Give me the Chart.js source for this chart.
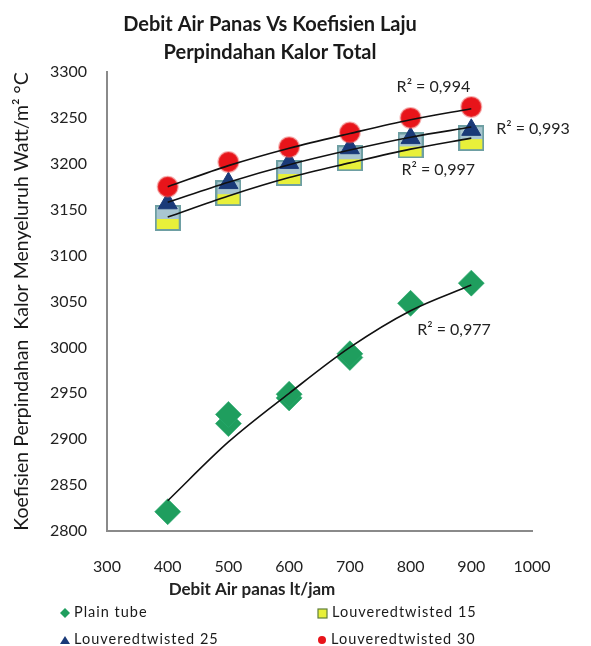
<!DOCTYPE html>
<html>
<head>
<meta charset="utf-8">
<script src="https://cdn.jsdelivr.net/npm/chart.js@4"></script>
<style>
  html, body { margin: 0; padding: 0; background: #fff; }
  #wrap { position: relative; width: 591px; height: 646px; }
  #chart { position: absolute; left: 0; top: 0; }
  #legend {
    position: absolute; left: 0; top: 600px; width: 591px; height: 46px;
    font-family: Lato, sans-serif; font-size: 14.5px; color: #1a1a1a; letter-spacing: 1px;
  }
  .item { position: absolute; height: 18px; line-height: 18px; white-space: nowrap; }
  .mk { display: inline-block; vertical-align: middle; margin-right: 4px; }
</style>
</head>
<body>
<div id="wrap">
  <canvas id="chart" width="591" height="646"></canvas>
  <div id="legend"></div>
</div>
<script>
  /* ---------- DATA ---------- */
  const seriesNames = [
    "Plain tube",
    "Louveredtwisted 15",
    "Louveredtwisted 25",
    "Louveredtwisted 30",
  ];

  // plain tube has repeated runs at some flow rates
  const plainX = [400, 500, 500, 600, 600, 700, 700, 800, 900];
  const plainY = [2821, 2917, 2927, 2945, 2949, 2989, 2993, 3048, 3070];

  const debit = [400, 500, 600, 700, 800, 900];
  const lt15 = [3141, 3168, 3190, 3206, 3220, 3228];
  const lt25 = [3157, 3179, 3201, 3217, 3228, 3237];
  const lt30 = [3175, 3202, 3218, 3234, 3250, 3262];

  // trendlines
  const trendPlain = [2833, 2897, 2950, 3000, 3040, 3068];
  const trend15 = [3142, 3165, 3185, 3201, 3216, 3228];
  const trend25 = [3158, 3180, 3199, 3215, 3229, 3240];
  const trend30 = [3175, 3198, 3217, 3233, 3248, 3260];

  const xRange = [300, 1000, 100];
  const yRange = [2800, 3300, 50];

  const rText = ["R² = 0,994", "R² = 0,993", "R² = 0,997", "R² = 0,977"];
  const rAtX = [777, 941, 785, 811];
  const rAtY = [3284, 3238, 3193, 3019];

  /* ---------- STYLES ---------- */
  const green = "#1f9e5e";
  const red = "#e8141a";
  const navy = "#1a3a78";
  const yellow = "#e8f03a";
  const teal = "#6e9fa3";
  const fontFam = "Lato, 'Open Sans', sans-serif";

  const pts = (xs, ys) => xs.map((x, i) => ({ x: x, y: ys[i] }));

  // excel-ish square marker: bluish top, yellow bottom
  function squareMarker() {
    const c = document.createElement("canvas");
    c.width = 26;
    c.height = 26;
    const g = c.getContext("2d");
    g.fillStyle = "#a9c6d0";
    g.fillRect(1, 1, 24, 13);
    g.fillStyle = yellow;
    g.fillRect(1, 14, 24, 11);
    g.strokeStyle = teal;
    g.lineWidth = 2;
    g.strokeRect(1, 1, 24, 24);
    return c;
  }

  const trendStyle = {
    type: "line",
    showLine: true,
    borderColor: "#111",
    borderWidth: 1.6,
    pointRadius: 0,
    cubicInterpolationMode: "monotone",
    fill: false,
    order: 0,
  };

  /* ---------- EXTRA TEXT (x title, R² labels) ---------- */
  const extraText = {
    id: "extraText",
    afterDraw(chart) {
      const { ctx, scales } = chart;
      ctx.save();
      ctx.fillStyle = "#222";
      ctx.textBaseline = "middle";
      ctx.font = "16px " + fontFam;
      ctx.textAlign = "left";
      rText.forEach((t, i) => {
        ctx.fillText(
          t,
          scales.x.getPixelForValue(rAtX[i]),
          scales.y.getPixelForValue(rAtY[i]),
        );
      });
      ctx.font = "bold 17px " + fontFam;
      ctx.textAlign = "center";
      ctx.fillText("Debit Air panas lt/jam", chart.chartArea.left + 145, 590);
      ctx.restore();
    },
  };

  const plainNum = (v) => String(v);

  /* ---------- CHART ---------- */
  const ctx = document.getElementById("chart").getContext("2d");
  new Chart(ctx, {
    type: "scatter",
    data: {
      datasets: [
        { ...trendStyle, label: "t30", data: pts(debit, trend30) },
        { ...trendStyle, label: "t25", data: pts(debit, trend25) },
        { ...trendStyle, label: "t15", data: pts(debit, trend15) },
        { ...trendStyle, label: "tp", data: pts(debit, trendPlain) },
        {
          label: seriesNames[3],
          data: pts(debit, lt30),
          pointStyle: "circle",
          pointRadius: 10,
          backgroundColor: red,
          borderColor: "rgba(235,80,80,0.45)",
          borderWidth: 2,
          order: 1,
        },
        {
          label: seriesNames[2],
          data: pts(debit, lt25),
          pointStyle: "triangle",
          pointRadius: 11,
          backgroundColor: navy,
          borderColor: navy,
          borderWidth: 1,
          order: 2,
        },
        {
          label: seriesNames[1],
          data: pts(debit, lt15),
          pointStyle: squareMarker(),
          pointRadius: 13,
          order: 3,
        },
        {
          label: seriesNames[0],
          data: pts(plainX, plainY),
          pointStyle: "rectRot",
          pointRadius: 13,
          backgroundColor: green,
          borderColor: "rgba(40,170,110,0.6)",
          borderWidth: 1,
          order: 4,
        },
      ],
    },
    options: {
      responsive: false,
      animation: false,
      layout: { padding: { left: 8, right: 59, top: 0, bottom: 46 } },
      plugins: {
        legend: { display: false },
        tooltip: { enabled: false },
        title: {
          display: true,
          text: ["Debit Air Panas Vs Koefisien Laju", "Perpindahan Kalor Total"],
          color: "#1a1a1a",
          font: { family: fontFam, size: 20, weight: "bold", lineHeight: 1.4 },
          padding: { top: 11, bottom: 5 },
        },
      },
      scales: {
        x: {
          type: "linear",
          min: xRange[0],
          max: xRange[1],
          grid: { display: false, drawTicks: false },
          border: { display: true, color: "#8a8a8a", width: 2 },
          ticks: {
            stepSize: xRange[2],
            color: "#222",
            padding: 26,
            font: { family: fontFam, size: 16 },
            callback: plainNum,
          },
          afterFit: (s) => { s.height = 69; },
        },
        y: {
          min: yRange[0],
          max: yRange[1],
          grid: { display: false, drawTicks: false },
          border: { display: true, color: "#8a8a8a", width: 2 },
          ticks: {
            stepSize: yRange[2],
            color: "#222",
            padding: 20,
            font: { family: fontFam, size: 16 },
            callback: plainNum,
          },
          title: {
            display: true,
            text: "Koefisien Perpindahan  Kalor Menyeluruh Watt/m² °C",
            color: "#1a1a1a",
            font: { family: fontFam, size: 19.5 },
            padding: { top: 2, bottom: 0 },
          },
          afterFit: (s) => { s.width = 99; },
        },
      },
    },
    plugins: [extraText],
  });

  /* ---------- LEGEND (2 x 2) ---------- */
  const markers = [
    `<svg class="mk" width="10" height="10"><polygon points="5,0 10,5 5,10 0,5" fill="${green}"/></svg>`,
    `<svg class="mk" width="11" height="11"><rect x="1" y="1" width="9" height="9" fill="${yellow}" stroke="#5f7f3a" stroke-width="1.2"/></svg>`,
    `<svg class="mk" width="10" height="10"><polygon points="5,1 10,9 0,9" fill="${navy}"/></svg>`,
    `<svg class="mk" width="10" height="10"><circle cx="5" cy="5" r="4" fill="${red}"/></svg>`,
  ];
  const legendPos = [
    [60, 3],
    [317, 3],
    [60, 30],
    [317, 30],
  ];
  const legendEl = document.getElementById("legend");
  seriesNames.forEach((name, i) => {
    const d = document.createElement("div");
    d.className = "item";
    d.style.left = legendPos[i][0] + "px";
    d.style.top = legendPos[i][1] + "px";
    d.innerHTML = markers[i] + name;
    legendEl.appendChild(d);
  });
</script>
</body>
</html>
